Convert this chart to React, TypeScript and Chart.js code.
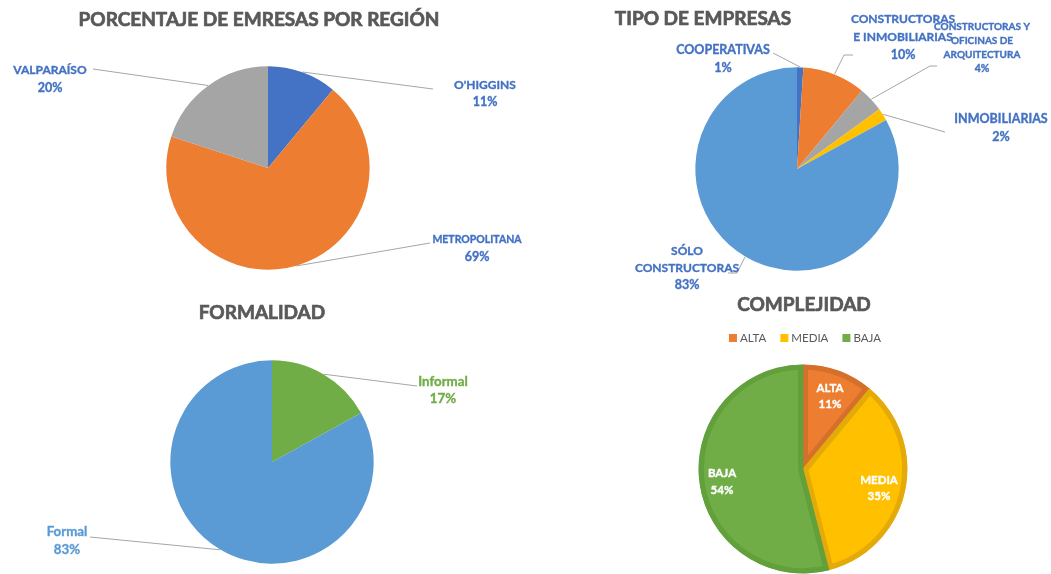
import React, { useEffect, useRef } from "react";
import { Chart, registerables } from "chart.js";

Chart.register(...registerables);

const W = 1051;
const H = 574;
const FONT = "Lato, 'Open Sans', sans-serif";
const TITLE_COLOR = "#595959";
const LEADER_COLOR = "#A6A6A6";

// ---------------- data ----------------
const regionCategories = ["O'HIGGINS", "METROPOLITANA", "VALPARAÍSO"];
const regionValues = [11, 69, 20];
const regionLabelLines = [["O'HIGGINS"], ["METROPOLITANA"], ["VALPARAÍSO"]];

const tipoCategories = [
  "COOPERATIVAS",
  "CONSTRUCTORAS E INMOBILIARIAS",
  "CONSTRUCTORAS Y OFICINAS DE ARQUITECTURA",
  "INMOBILIARIAS",
  "SÓLO CONSTRUCTORAS",
];
const tipoValues = [1, 10, 4, 2, 83];
const tipoLabelLines = [
  ["COOPERATIVAS"],
  ["CONSTRUCTORAS", "E INMOBILIARIAS"],
  ["CONSTRUCTORAS Y", "OFICINAS DE", "ARQUITECTURA"],
  ["INMOBILIARIAS"],
  ["SÓLO", "CONSTRUCTORAS"],
];

const formalCategories = ["Informal", "Formal"];
const formalValues = [17, 83];
const formalLabelLines = [["Informal"], ["Formal"]];

const complejidadCategories = ["ALTA", "MEDIA", "BAJA"];
const complejidadValues = [11, 35, 54];
const complejidadLabelLines = [["ALTA"], ["MEDIA"], ["BAJA"]];

const titles = [
  "PORCENTAJE DE EMRESAS POR REGIÓN",
  "TIPO DE EMPRESAS",
  "FORMALIDAD",
  "COMPLEJIDAD",
];

// ---------------- styles / layout ----------------
type LabelStyle = {
  x: number;
  y: number;
  lh: number;
  size: number;
  pctSize: number;
  color: string;
  path?: number[][];
};

type Panel = {
  title: string;
  titleX: number;
  titleY: number;
  cx: number;
  cy: number;
  r: number;
  categories: string[];
  values: number[];
  lines: string[][];
  colors: string[];
  borderColors?: string[];
  borderWidth: number;
  labels: LabelStyle[];
  legendY?: number;
  legendX?: number;
};

const BLUE = "#4472C4";
const ORANGE = "#ED7D31";
const GRAY = "#A5A5A5";
const YELLOW = "#FFC000";
const LIGHTBLUE = "#5B9BD5";
const GREEN = "#70AD47";

const panels: Panel[] = [
  {
    title: titles[0],
    titleX: 259,
    titleY: 20,
    cx: 268,
    cy: 168,
    r: 102,
    categories: regionCategories,
    values: regionValues,
    lines: regionLabelLines,
    colors: [BLUE, ORANGE, GRAY],
    borderWidth: 0,
    labels: [
      { x: 217, y: -83, lh: 17, size: 12, pctSize: 12.5, color: BLUE, path: [[165, -79]] },
      { x: 209, y: 72, lh: 17, size: 10.5, pctSize: 12.5, color: BLUE, path: [[162, 75]] },
      { x: -218, y: -98, lh: 18, size: 12, pctSize: 12.5, color: BLUE, path: [[-175, -99]] },
    ],
  },
  {
    title: titles[1],
    titleX: 703,
    titleY: 19,
    cx: 797,
    cy: 169,
    r: 102,
    categories: tipoCategories,
    values: tipoValues,
    lines: tipoLabelLines,
    colors: [BLUE, ORANGE, GRAY, YELLOW, LIGHTBLUE],
    borderWidth: 0,
    labels: [
      { x: -74, y: -119, lh: 18, size: 12.5, pctSize: 12.5, color: BLUE, path: [[-24, -116]] },
      { x: 106, y: -150, lh: 18, size: 12, pctSize: 12.5, color: BLUE, path: [[47, -114], [56, -114]] },
      { x: 185, y: -142, lh: 14, size: 10, pctSize: 10.5, color: BLUE, path: [[133, -103], [140, -103]] },
      { x: 204, y: -50, lh: 18, size: 12.5, pctSize: 12.5, color: BLUE, path: [[148, -37]] },
      { x: -110, y: 82, lh: 17, size: 12, pctSize: 12.5, color: BLUE, path: [[-60, 104], [-69, 104]] },
    ],
  },
  {
    title: titles[2],
    titleX: 262,
    titleY: 313,
    cx: 272,
    cy: 462,
    r: 102,
    categories: formalCategories,
    values: formalValues,
    lines: formalLabelLines,
    colors: [GREEN, LIGHTBLUE],
    borderWidth: 0,
    labels: [
      { x: 171, y: -80, lh: 17, size: 13.3, pctSize: 13.3, color: GREEN, path: [[145, -76]] },
      { x: -205, y: 70, lh: 18, size: 13.3, pctSize: 13.3, color: LIGHTBLUE, path: [[-182, 75]] },
    ],
  },
  {
    title: titles[3],
    titleX: 804,
    titleY: 305,
    cx: 803,
    cy: 469,
    r: 102,
    categories: complejidadCategories,
    values: complejidadValues,
    lines: complejidadLabelLines,
    colors: [ORANGE, YELLOW, GREEN],
    borderColors: ["#D5702C", "#E3AA0A", "#62A03C"],
    borderWidth: 5,
    legendX: 805,
    legendY: 338,
    labels: [
      { x: 27, y: -81, lh: 16, size: 11.5, pctSize: 11.5, color: "#FFFFFF" },
      { x: 76, y: 11, lh: 16, size: 11.5, pctSize: 11.5, color: "#FFFFFF" },
      { x: -81, y: 4, lh: 17, size: 11.5, pctSize: 11.5, color: "#FFFFFF" },
    ],
  },
];

function makePanelPlugin(panel: Panel) {
  return {
    id: "piePanel",
    afterDatasetsDraw(chart: any) {
      const ctx: CanvasRenderingContext2D = chart.ctx;
      const meta = chart.getDatasetMeta(0);
      const data = chart.data.datasets[0].data as number[];
      ctx.save();
      panel.labels.forEach((lab, i) => {
        const arc = meta.data[i];
        if (!arc) return;
        const p = arc.getProps(["x", "y", "startAngle", "endAngle", "outerRadius"], true);
        const mid = (p.startAngle + p.endAngle) / 2;
        if (lab.path) {
          ctx.strokeStyle = LEADER_COLOR;
          ctx.lineWidth = 1;
          ctx.beginPath();
          ctx.moveTo(p.x + Math.cos(mid) * p.outerRadius, p.y + Math.sin(mid) * p.outerRadius);
          lab.path.forEach(([dx, dy]) => ctx.lineTo(p.x + dx, p.y + dy));
          ctx.stroke();
        }
        ctx.fillStyle = lab.color;
        ctx.strokeStyle = lab.color;
        ctx.lineWidth = 0.35;
        ctx.textAlign = "center";
        ctx.textBaseline = "middle";
        const lines = panel.lines[i];
        lines.forEach((t, k) => {
          ctx.font = `bold ${lab.size}px ${FONT}`;
          ctx.fillText(t, p.x + lab.x, p.y + lab.y + k * lab.lh);
          ctx.strokeText(t, p.x + lab.x, p.y + lab.y + k * lab.lh);
        });
        ctx.font = `bold ${lab.pctSize}px ${FONT}`;
        const py = p.y + lab.y + lines.length * lab.lh;
        ctx.fillText(`${data[i]}%`, p.x + lab.x, py);
        ctx.strokeText(`${data[i]}%`, p.x + lab.x, py);
      });
      // title
      ctx.fillStyle = TITLE_COLOR;
      ctx.strokeStyle = TITLE_COLOR;
      ctx.lineWidth = 0.7;
      ctx.font = `bold 19px ${FONT}`;
      ctx.textAlign = "center";
      ctx.textBaseline = "middle";
      ctx.fillText(panel.title, panel.titleX, panel.titleY);
      ctx.strokeText(panel.title, panel.titleX, panel.titleY);
      // legend
      if (panel.legendY !== undefined && panel.legendX !== undefined) {
        ctx.font = `11.5px ${FONT}`;
        const box = 8;
        const gapText = 3;
        const gapItem = 14;
        const labels = chart.data.labels as string[];
        const widths = labels.map((l) => box + gapText + ctx.measureText(l).width);
        const total = widths.reduce((a, b) => a + b, 0) + gapItem * (labels.length - 1);
        let x = panel.legendX - total / 2;
        labels.forEach((l, i) => {
          ctx.fillStyle = panel.colors[i];
          ctx.fillRect(x, panel.legendY! - box / 2, box, box);
          ctx.fillStyle = TITLE_COLOR;
          ctx.textAlign = "left";
          ctx.fillText(l, x + box + gapText, panel.legendY! + 0.5);
          x += widths[i] + gapItem;
        });
      }
      ctx.restore();
    },
  };
}

function PiePanel({ panel }: { panel: Panel }) {
  const ref = useRef<HTMLCanvasElement>(null);
  useEffect(() => {
    const s = panel.borderWidth / 2;
    const chart = new Chart(ref.current!, {
      type: "pie",
      data: {
        labels: panel.categories,
        datasets: [
          {
            data: panel.values,
            backgroundColor: panel.colors,
            borderColor: panel.borderColors ?? panel.colors,
            borderWidth: panel.borderWidth,
            borderAlign: "inner",
            hoverOffset: 0,
            hoverBorderWidth: 0,
            offset: 0,
          } as any,
        ],
      },
      options: {
        animation: false,
        responsive: false,
        events: [],
        layout: {
          padding: {
            left: panel.cx - panel.r - s,
            right: W - panel.cx - panel.r - s,
            top: panel.cy - panel.r - s,
            bottom: H - panel.cy - panel.r - s,
          },
        },
        plugins: {
          legend: { display: false },
          title: { display: false },
          tooltip: { enabled: false },
        },
      },
      plugins: [makePanelPlugin(panel)],
    });
    return () => chart.destroy();
  }, [panel]);
  return (
    <canvas
      ref={ref}
      width={W}
      height={H}
      style={{ position: "absolute", left: 0, top: 0, width: W, height: H }}
    />
  );
}

export default function App() {
  return (
    <div style={{ position: "absolute", left: 0, top: 0, width: W, height: H, background: "#FFFFFF" }}>
      {panels.map((p, i) => (
        <PiePanel key={i} panel={p} />
      ))}
    </div>
  );
}
